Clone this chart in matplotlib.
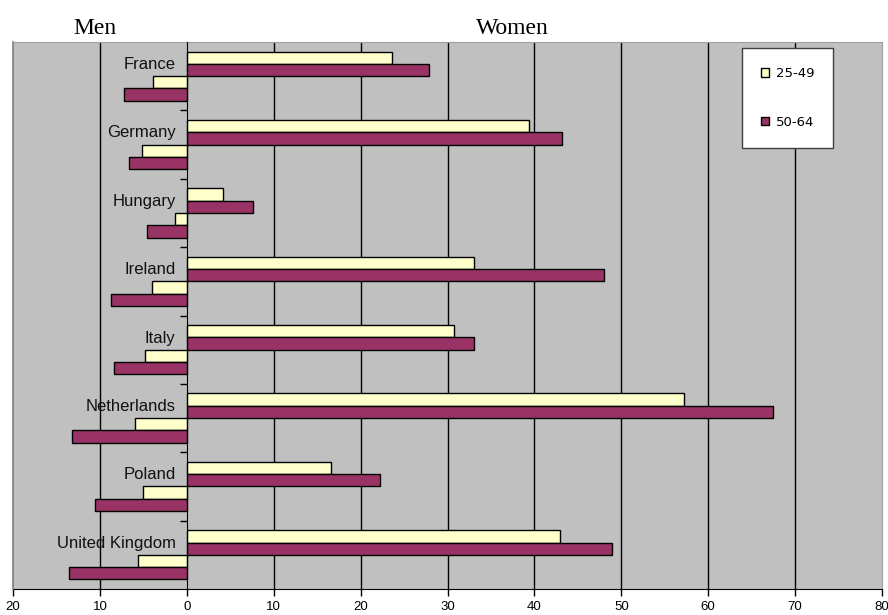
import matplotlib
matplotlib.use("Agg")
import matplotlib.pyplot as plt
import numpy as np
from matplotlib.patches import Patch
from matplotlib.ticker import FuncFormatter, MultipleLocator

countries = ["France", "Germany", "Hungary", "Ireland", "Italy",
             "Netherlands", "Poland", "United Kingdom"]
women_25_49 = [23.6, 39.4, 4.2, 33.0, 30.7, 57.2, 16.6, 43.0]
women_50_64 = [27.9, 43.2, 7.6, 48.0, 33.1, 67.4, 22.2, 48.9]
men_25_49 = [3.9, 5.1, 1.4, 4.0, 4.8, 6.0, 5.0, 5.6]
men_50_64 = [7.2, 6.7, 4.6, 8.7, 8.4, 13.2, 10.6, 13.5]
age_groups = ["25-49", "50-64"]

YELLOW = "#FFFFCC"
PURPLE = "#993366"

fig = plt.figure(figsize=(8.88, 6.15), dpi=100)
ax = fig.add_axes([13 / 888, 1 - 589 / 615, (882 - 13) / 888, (589 - 42) / 615])
ax.set_facecolor("#C0C0C0")

y = np.arange(len(countries))
h = 0.18
bar_kw = dict(height=h, edgecolor="black", linewidth=1.0, zorder=3)
ax.barh(y - 1.5 * h, women_25_49, color=YELLOW, **bar_kw)
ax.barh(y - 0.5 * h, women_50_64, color=PURPLE, **bar_kw)
ax.barh(y + 0.5 * h, -np.array(men_25_49), color=YELLOW, **bar_kw)
ax.barh(y + 1.5 * h, -np.array(men_50_64), color=PURPLE, **bar_kw)

ax.set_xlim(-20, 80)
ax.set_ylim(len(countries) - 0.5, -0.5)

# vertical gridlines
for gx in range(-10, 80, 10):
    if gx != 0:
        ax.axvline(gx, color="black", linewidth=1.0, zorder=1)

# x axis
ax.xaxis.set_major_locator(MultipleLocator(10))
ax.xaxis.set_major_formatter(FuncFormatter(lambda v, p: f"{abs(v):.0f}"))
ax.tick_params(axis="x", direction="out", length=5, width=1, color="black",
               pad=4, labelsize=9.5)
for lbl in ax.get_xticklabels():
    lbl.set_family(["Liberation Sans Narrow", "Liberation Sans", "DejaVu Sans"])

# category axis crossing at zero
ax.spines["left"].set_position(("data", 0))
ax.spines["left"].set_color("black")
ax.spines["left"].set_zorder(4)
ax.spines["bottom"].set_color("black")
ax.spines["top"].set_color("#A0A0A0")
ax.spines["right"].set_color("#A0A0A0")
ax.plot([0, 0], [0, 1], transform=ax.transAxes, color="#808080",
        linewidth=1.2, clip_on=False, zorder=5)

ax.set_yticks(np.arange(0.5, len(countries) - 0.5, 1.0))
ax.set_yticklabels([])
ax.tick_params(axis="y", direction="out", length=5, width=1, color="black")

for i, name in enumerate(countries):
    ax.text(-1.3, i - 0.17, name, ha="right", va="center", fontsize=12,
            family="Liberation Sans", color="#111111", zorder=6)

# side headings
fig.text(95 / 888, 1 - 28 / 615, "Men", ha="center", va="center",
         fontsize=17, family="Liberation Serif")
fig.text(512 / 888, 1 - 28 / 615, "Women", ha="center", va="center",
         fontsize=17, family="Liberation Serif")

handles = [Patch(facecolor=YELLOW, edgecolor="black", linewidth=1),
           Patch(facecolor=PURPLE, edgecolor="black", linewidth=1)]
leg = ax.legend(handles, age_groups, loc="upper left",
                bbox_to_anchor=((742 - 13) / 869, 1 - (48 - 42) / 547),
                frameon=True, fancybox=False, fontsize=9.5,
                handlelength=0.6, handleheight=0.6, handletextpad=0.5,
                labelspacing=2.7, borderpad=1.45, borderaxespad=0,
                framealpha=1.0, facecolor="white")
leg.get_frame().set_edgecolor("#404040")
leg.get_frame().set_linewidth(1.0)
leg.set_zorder(7)

fig.savefig("out.png", dpi=100)
